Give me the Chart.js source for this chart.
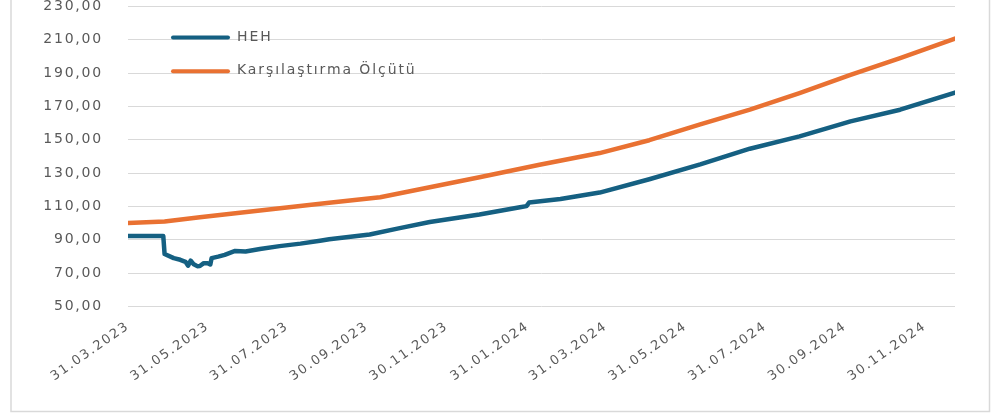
<!DOCTYPE html>
<html>
<head>
<meta charset="utf-8">
<script src="https://cdn.jsdelivr.net/npm/chart.js@4/dist/chart.umd.min.js"></script>
<style>
html,body{margin:0;padding:0;background:#fff;overflow:hidden}
#wrap{width:994px;height:416px;position:relative}
</style>
</head>
<body>
<div id="wrap"><canvas id="c" width="994" height="416"></canvas></div>
<script>
// ---- data ----
const seriesNames = ['HEH', 'Karşılaştırma Ölçütü'];
const tickLabels = ['31.03.2023','31.05.2023','31.07.2023','30.09.2023','30.11.2023','31.01.2024',
                    '31.03.2024','31.05.2024','31.07.2024','30.09.2024','30.11.2024'];
const yMin = 50, yMax = 230, yStep = 20;

const hehDates = ['31.03.2023','27.04.2023','28.04.2023','05.05.2023','10.05.2023','14.05.2023','16.05.2023',
  '18.05.2023','20.05.2023','23.05.2023','25.05.2023','28.05.2023','31.05.2023','02.06.2023','03.06.2023',
  '08.06.2023','13.06.2023','21.06.2023','29.06.2023','10.07.2023','25.07.2023','10.08.2023','25.08.2023',
  '01.09.2023','02.10.2023','25.10.2023','17.11.2023','25.12.2023','25.01.2024','30.01.2024','01.02.2024',
  '25.02.2024','26.03.2024','03.05.2024','11.06.2024','19.07.2024','26.08.2024','04.10.2024','11.11.2024',
  '23.12.2024'];
const hehValues = [92.3,92.3,81.5,79,78,76.8,74.5,
  77.5,75.5,74.2,74.3,76,76,75.2,79,
  79.9,81,83.3,83,84.5,86.2,87.7,89.4,
  90.3,93.2,97,100.7,105.2,109.5,110.2,112.3,
  114.5,118.3,126.3,135.2,144.6,152,161,168,
  178.3];

const benchDates = ['31.03.2023','28.04.2023','25.05.2023','10.07.2023','01.09.2023','10.10.2023','17.11.2023',
  '25.12.2023','09.02.2024','26.03.2024','03.05.2024','11.06.2024','19.07.2024','26.08.2024','04.10.2024',
  '11.11.2024','23.12.2024'];
const benchValues = [100.0,101,103.5,107.5,112.2,115.5,121.5,
  127.5,135,142,149.7,159.2,168,178,188.9,
  198.9,210.6];

const colors = ['#156082', '#E97132'];

// ---- helpers ----
const BASE = Date.UTC(2023, 2, 31);
function dayOf(s){ const [d,m,y] = s.split('.').map(Number); return Math.round((Date.UTC(y,m-1,d)-BASE)/86400000); }
function pts(dates, vals){ return dates.map((d,i)=>({x: dayOf(d), y: vals[i]})); }

const LS = '1.8px';
const FONT = "'DejaVu Sans', 'Liberation Sans', Arial, sans-serif";
Chart.defaults.font.family = FONT;
Chart.defaults.color = '#595959';

const styling = {
  id: 'styling',
  beforeLayout(chart){ chart.ctx.letterSpacing = LS; },
  beforeDraw(chart){
    const c = chart.ctx;
    c.letterSpacing = LS;
    c.save();
    c.strokeStyle = '#d9d9d9';
    c.lineWidth = 1.5;
    c.beginPath();
    c.moveTo(11, 0); c.lineTo(11, 411.5); c.lineTo(989.5, 411.5); c.lineTo(989.5, 0);
    c.stroke();
    c.restore();
  },
  afterDraw(chart){
    const c = chart.ctx;
    c.save();
    c.letterSpacing = '1.9px';
    const ys = [37.5, 71.3];
    seriesNames.forEach((n,i)=>{
      c.strokeStyle = colors[i]; c.lineWidth = 4; c.lineCap = 'round';
      c.beginPath(); c.moveTo(173, ys[i]); c.lineTo(228, ys[i]); c.stroke();
      c.fillStyle = '#595959'; c.font = '14px ' + FONT;
      c.textBaseline = 'middle'; c.textAlign = 'left';
      c.fillText(n, 237, ys[i] - 0.5);
    });
    c.restore();
  }
};

new Chart(document.getElementById('c'), {
  type: 'line',
  data: {
    datasets: [
      { label: seriesNames[0], data: pts(hehDates, hehValues), borderColor: colors[0], backgroundColor: colors[0],
        borderWidth: 4.5, pointRadius: 0, tension: 0, borderJoinStyle: 'round', borderCapStyle: 'round' },
      { label: seriesNames[1], data: pts(benchDates, benchValues), borderColor: colors[1], backgroundColor: colors[1],
        borderWidth: 4.5, pointRadius: 0, tension: 0, borderJoinStyle: 'round', borderCapStyle: 'round' }
    ]
  },
  options: {
    responsive: false, animation: false, devicePixelRatio: 1,
    layout: { padding: { top: 6.3, right: 39, left: 0, bottom: 0 } },
    plugins: { legend: { display: false }, tooltip: { enabled: false } },
    scales: {
      x: {
        type: 'linear',
        min: dayOf(tickLabels[0]),
        max: dayOf(hehDates[hehDates.length-1]),
        grid: { display: false, drawTicks: false },
        border: { display: false },
        afterBuildTicks(scale){ scale.ticks = tickLabels.map(l => ({ value: dayOf(l) })); },
        afterFit(scale){ scale.height = 109.5; scale.paddingLeft = 0; scale.paddingRight = 0; },
        ticks: {
          autoSkip: false, minRotation: 35, maxRotation: 35, padding: 12,
          font: { size: 13 }, color: '#595959',
          callback: (v, i) => tickLabels[i]
        }
      },
      y: {
        min: yMin, max: yMax,
        grid: { color: '#d9d9d9', lineWidth: 1, drawTicks: false },
        border: { display: false },
        afterFit(scale){ scale.width = 128; scale.paddingTop = 0; scale.paddingBottom = 0; },
        ticks: {
          stepSize: yStep, padding: 25, font: { size: 14 }, color: '#595959',
          callback: v => v.toFixed(2).replace('.', ',')
        }
      }
    }
  },
  plugins: [styling]
});
</script>
</body>
</html>
